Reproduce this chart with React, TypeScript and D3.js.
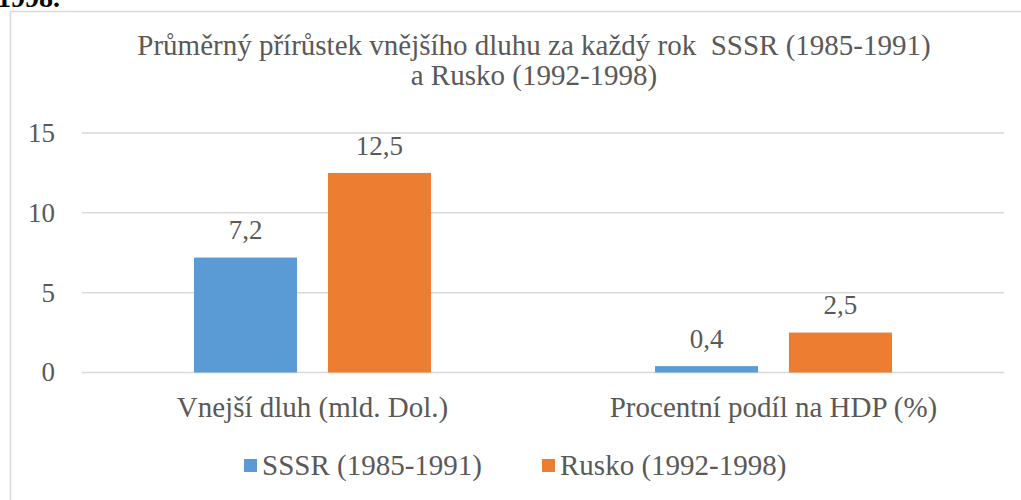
import React from "react";
import * as d3 from "d3";

const categories = ["Vnejší dluh (mld. Dol.)", "Procentní podíl na HDP (%)"];
const seriesNames = ["SSSR (1985-1991)", "Rusko (1992-1998)"];
const sssrValues = [7.2, 0.4];
const ruskoValues = [12.5, 2.5];
const yTicks = [0, 5, 10, 15];
const titleLines = [
  "Průměrný přírůstek vnějšího dluhu za každý rok  SSSR (1985-1991)",
  "a Rusko (1992-1998)",
];
const colors = ["#5B9BD5", "#ED7D31"];

const W = 1021;
const H = 500;
const FONT = "Liberation Serif";
const TEXT = "#595959";

function T({ x, y, children, size = 29, anchor = "middle", fill = TEXT }: any) {
  return (
    <text x={x} y={y + size * 0.33} textAnchor={anchor} fontFamily={FONT} fontSize={size} fill={fill} xmlSpace="preserve">
      {children}
    </text>
  );
}

export default function App() {
  const left = 82;
  const right = 1004;
  const x0 = d3.scaleBand().domain(categories).range([left, right]).paddingInner(0).paddingOuter(0);
  const inner = d3.scaleBand().domain(seriesNames).range([0, x0.bandwidth()]).paddingInner(0.231).paddingOuter(0.836);
  const y = d3.scaleLinear().domain([0, 15]).range([372.5, 133]);
  const series = [sssrValues, ruskoValues];
  const fmt = (v: number) => v.toFixed(1).replace(".", ",");

  return (
    <svg width={W} height={H} style={{ position: "absolute", left: 0, top: 0, background: "#fff" }}>
      <rect x={0} y={0} width={W} height={H} fill="#fff" />
      <text x={-3} y={7} fontFamily={FONT} fontSize={28} fontWeight="bold" fill="#000">1998.</text>
      <rect x={10.5} y={11.5} width={W + 20} height={H + 20} fill="#fff" stroke="#D9D9D9" strokeWidth={1.5} />
      {titleLines.map((t, i) => (
        <T key={i} x={534} y={45 + i * 30} size={29}>{t}</T>
      ))}
      {yTicks.map((t) => (
        <g key={t}>
          <line x1={left} x2={right} y1={y(t)} y2={y(t)} stroke="#D9D9D9" strokeWidth={1.5} />
          <T x={55} y={y(t)} anchor="end" size={27}>{t}</T>
        </g>
      ))}
      {categories.map((c, ci) => (
        <g key={c}>
          {seriesNames.map((s, si) => {
            const v = series[si][ci];
            const bx = (x0(c) as number) + (inner(s) as number);
            const bw = inner.bandwidth();
            return (
              <g key={s}>
                <rect x={bx} y={y(v)} width={bw} height={y(0) - y(v)} fill={colors[si]} />
                <T x={bx + bw / 2} y={y(v) - 27} size={27}>{fmt(v)}</T>
              </g>
            );
          })}
          <T x={(x0(c) as number) + x0.bandwidth() / 2} y={407}>{c}</T>
        </g>
      ))}
      {seriesNames.map((s, i) => {
        const lx = [244, 542][i];
        return (
          <g key={s}>
            <rect x={lx} y={459} width={13} height={13} fill={colors[i]} />
            <T x={lx + 18} y={465} anchor="start">{s}</T>
          </g>
        );
      })}
    </svg>
  );
}
